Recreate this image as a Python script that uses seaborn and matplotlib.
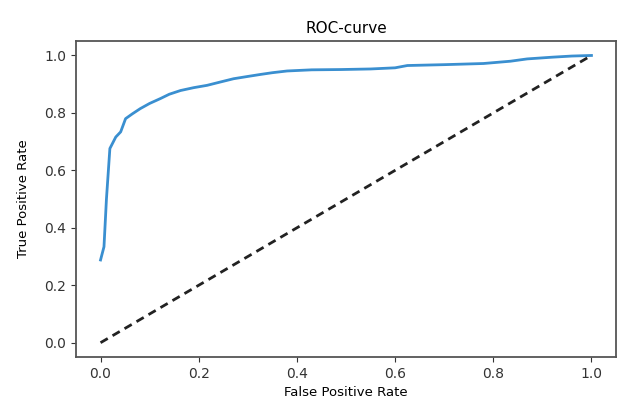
import pandas as pd
import matplotlib
matplotlib.use("Agg")
import matplotlib.pyplot as plt
import seaborn as sns

# ── ROC points ──────────────────────────────────────────────
fpr = [0.0, 0.007, 0.012, 0.019, 0.031, 0.041, 0.051, 0.065, 0.081, 0.10,
       0.122, 0.14, 0.163, 0.19, 0.217, 0.245, 0.271, 0.30, 0.326, 0.35,
       0.38, 0.43, 0.489, 0.55, 0.60, 0.625, 0.70, 0.78, 0.835, 0.869,
       0.92, 0.96, 1.0]
tpr = [0.288, 0.334, 0.50, 0.676, 0.716, 0.734, 0.78, 0.797, 0.815, 0.833,
       0.85, 0.865, 0.878, 0.888, 0.896, 0.908, 0.919, 0.927, 0.934, 0.940,
       0.946, 0.950, 0.951, 0.953, 0.957, 0.965, 0.968, 0.972, 0.98, 0.988,
       0.994, 0.998, 1.0]
diag = [0.0, 1.0]

df = pd.DataFrame({"fpr": fpr, "tpr": tpr})

fig, ax = plt.subplots(figsize=(6.25, 4.03), dpi=100)
sns.lineplot(data=df, x="fpr", y="tpr", sort=False, estimator=None,
             color="#3a8fd0", linewidth=2, ax=ax)
sns.lineplot(x=diag, y=diag, color="#222222", linestyle=(0, (3, 2)),
             linewidth=2, ax=ax)

ax.set_title("ROC-curve", fontsize=11)
ax.set_xlabel("False Positive Rate", fontsize=9.5)
ax.set_ylabel("True Positive Rate", fontsize=9.5, labelpad=10)
ax.tick_params(labelsize=10, colors="#333333")
for s in ax.spines.values():
    s.set_color("#555555")
    s.set_linewidth(1.3)

fig.subplots_adjust(left=0.1216, right=0.9856, top=0.898, bottom=0.114)
fig.savefig("out.png", dpi=100)
